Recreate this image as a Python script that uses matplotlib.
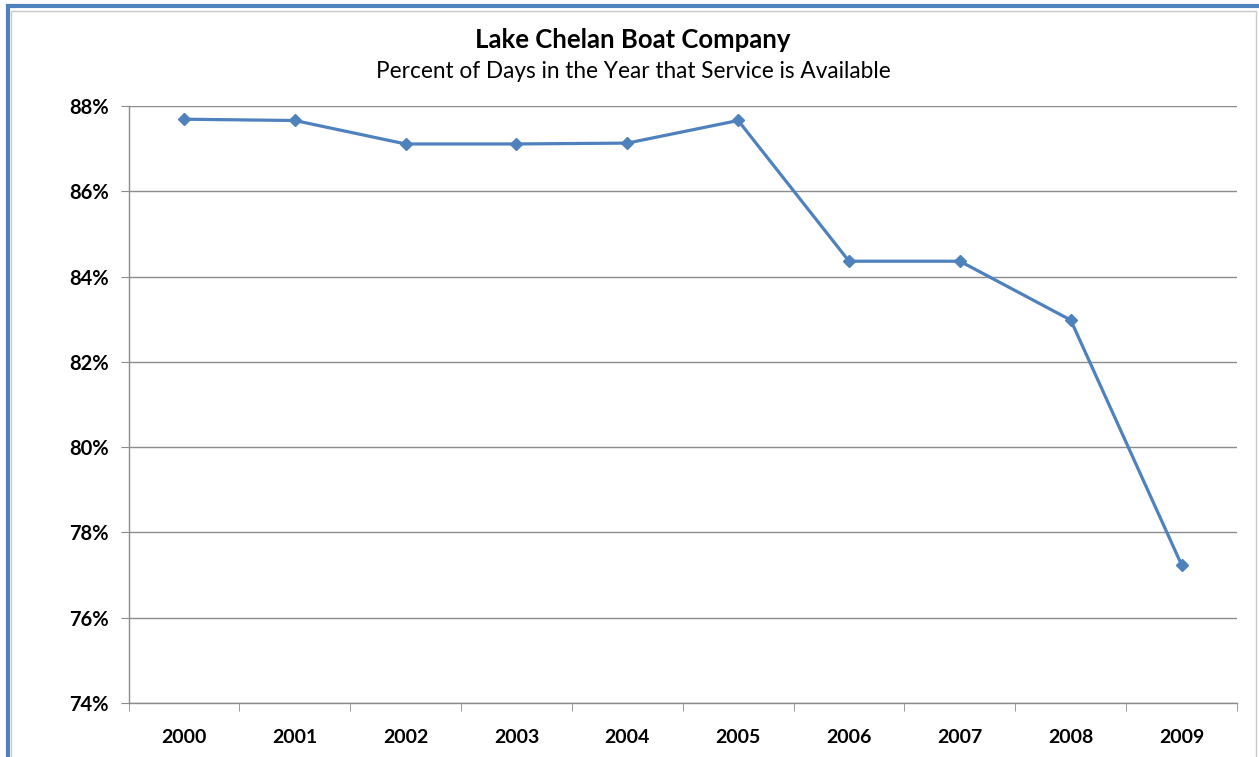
import matplotlib
matplotlib.use("Agg")
import matplotlib.pyplot as plt
from matplotlib.patches import Rectangle
from matplotlib.ticker import FixedLocator, FuncFormatter
import numpy as np

years = ["2000", "2001", "2002", "2003", "2004", "2005", "2006", "2007", "2008", "2009"]
pct_available = [87.69, 87.66, 87.11, 87.11, 87.13, 87.66, 84.36, 84.36, 82.98, 77.24]
y_ticks = [74, 76, 78, 80, 82, 84, 86, 88]

titulo = "Lake Chelan Boat Company"
subtitulo = "Percent of Days in the Year that Service is Available"

plt.rcParams["font.family"] = ["Lato", "DejaVu Sans"]

fig = plt.figure(figsize=(12.59, 7.57), dpi=100)
W, H = 1259, 757

# marco azul de la captura
fig.patches.append(Rectangle((7.5 / W, -0.05), 1.2, 1 - 6 / H + 0.05, transform=fig.transFigure,
                             fill=False, edgecolor="#4F81BD", linewidth=3.0, zorder=0))
fig.patches.append(Rectangle((11 / W, -0.05), (1255.5 - 11) / W, 1 - 10.5 / H + 0.05,
                             transform=fig.transFigure, fill=False, edgecolor="#C8C8C8",
                             linewidth=1.0, zorder=0))

ax = fig.add_axes([128.5 / W, 1 - 703 / H, (1237 - 128.5) / W, (703 - 106) / H])

x = np.arange(len(years))
ax.plot(x, pct_available, color="#4F81BD", linewidth=2.3, marker="D", markersize=6.5,
        markeredgecolor="#4F81BD", markerfacecolor="#4F81BD", zorder=3)

ax.set_xlim(-0.5, len(years) - 0.5)
ax.set_ylim(74, 88)
ax.set_yticks(y_ticks)
ax.yaxis.set_major_formatter(FuncFormatter(lambda v, p: f"{v:.0f}%"))
ax.grid(axis="y", color="#8C8C8C", linewidth=1.0)
ax.set_axisbelow(True)

ax.set_xticks(x)
ax.set_xticklabels(years)
ax.xaxis.set_minor_locator(FixedLocator(np.arange(-0.5, len(years), 1.0)))
ax.tick_params(axis="x", which="major", length=0, pad=19, labelsize=14)
ax.tick_params(axis="x", which="minor", length=6, color="#8C8C8C", direction="out")
ax.tick_params(axis="y", length=6, color="#8C8C8C", pad=8, labelsize=14.5)
for lbl in ax.get_xticklabels() + ax.get_yticklabels():
    lbl.set_fontweight("bold")

for s in ["top", "right"]:
    ax.spines[s].set_visible(False)
for s in ["left", "bottom"]:
    ax.spines[s].set_color("#8C8C8C")
    ax.spines[s].set_linewidth(1.0)

fig.text(633 / W, 1 - 40 / H, titulo, ha="center", va="center", fontsize=18.5, fontweight="bold")
fig.text(633 / W, 1 - 72 / H, subtitulo, ha="center", va="center", fontsize=16.3)

fig.savefig("out.png", dpi=100)
